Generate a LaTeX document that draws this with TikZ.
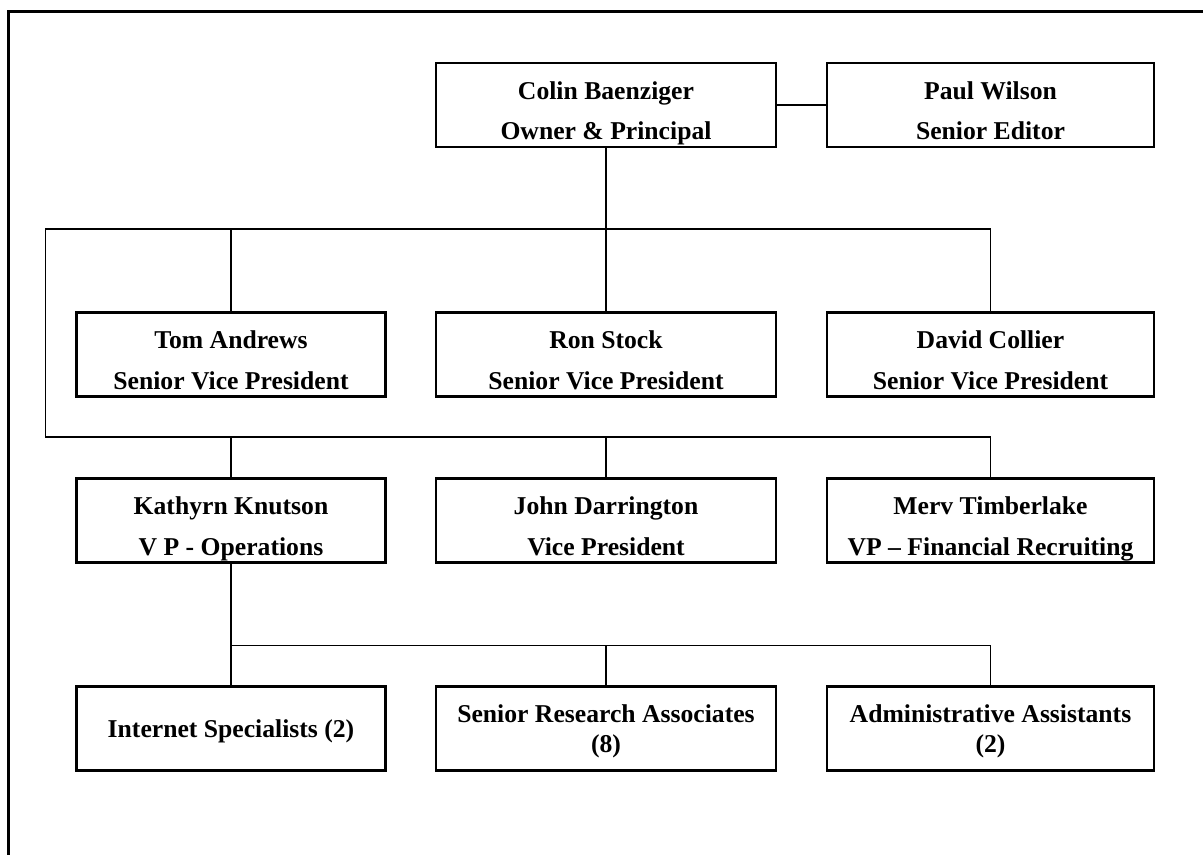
\documentclass[tikz,border=0pt]{standalone}
\usepackage{fontspec}
\setmainfont{Liberation Serif}
\newcommand{\person}[2]{\rule{0pt}{.70cm}#1\\[5.7pt]#2\rule[-.12cm]{0pt}{.12cm}}
\newcommand{\staff}[1]{\rule{0pt}{.48cm}#1\rule[-.12cm]{0pt}{.12cm}}
\begin{document}
\begin{tikzpicture}[line width=1.1pt,
    post/.style={draw, line width=1.3pt, minimum height=1.68cm, inner sep=0pt, align=center,
        font=\bfseries\fontsize{14.6pt}{17.1pt}\selectfont},
    leftpost/.style={post, minimum width=6.18cm},
    centrepost/.style={post, minimum width=6.80cm},
    rightpost/.style={post, minimum width=6.54cm}]

    \useasboundingbox (0,0) rectangle (24.06,17.10);

    % frame
    \draw[line width=1.3pt] (0.17,0) -- (0.17,16.87) -- (24.06,16.87);

    % owner
    \node[centrepost] (colin) at (12.12,15.00) {\person{Colin Baenziger}{Owner \& Principal}};
    \node[rightpost] (paul) at (19.81,15.00) {\person{Paul Wilson}{Senior Editor}};

    % senior vice presidents
    \node[leftpost] (tom) at (4.62,10.01) {\person{Tom Andrews}{Senior Vice President}};
    \node[centrepost] (ron) at (12.12,10.01) {\person{Ron Stock}{Senior Vice President}};
    \node[rightpost] (david) at (19.81,10.01) {\person{David Collier}{Senior Vice President}};

    % vice presidents
    \node[leftpost] (kathryn) at (4.62,6.69) {\person{Kathyrn Knutson}{V P - Operations}};
    \node[centrepost] (john) at (12.12,6.69) {\person{John Darrington}{Vice President}};
    \node[rightpost] (merv) at (19.81,6.69) {\person{Merv Timberlake}{VP -- Financial Recruiting}};

    % staff
    \node[leftpost] (internet) at (4.62,2.53) {\staff{Internet Specialists (2)}};
    \node[centrepost] (research) at (12.12,2.53) {\staff{Senior Research Associates\\(8)}};
    \node[rightpost] (admin) at (19.81,2.53) {\staff{Administrative Assistants\\(2)}};

    \coordinate (loopTL) at (0.91,12.52);
    \coordinate (loopBL) at (0.91,8.36);
    \coordinate (staffbus) at (4.62,4.19);

    \draw (colin) -- (paul);
    \draw (colin.south) -- (ron.north);
    \draw (david.north) |- (loopTL) -- (loopBL) -| (merv.north);
    \draw (tom.north) -- (tom.north |- loopTL);
    \draw (kathryn.north) -- (kathryn.north |- loopBL);
    \draw (john.north) -- (john.north |- loopBL);
    \draw (kathryn.south) -- (internet.north);
    \draw (staffbus) -| (admin.north);
    \draw (research.north) -- (research.north |- staffbus);

\end{tikzpicture}
\end{document}
